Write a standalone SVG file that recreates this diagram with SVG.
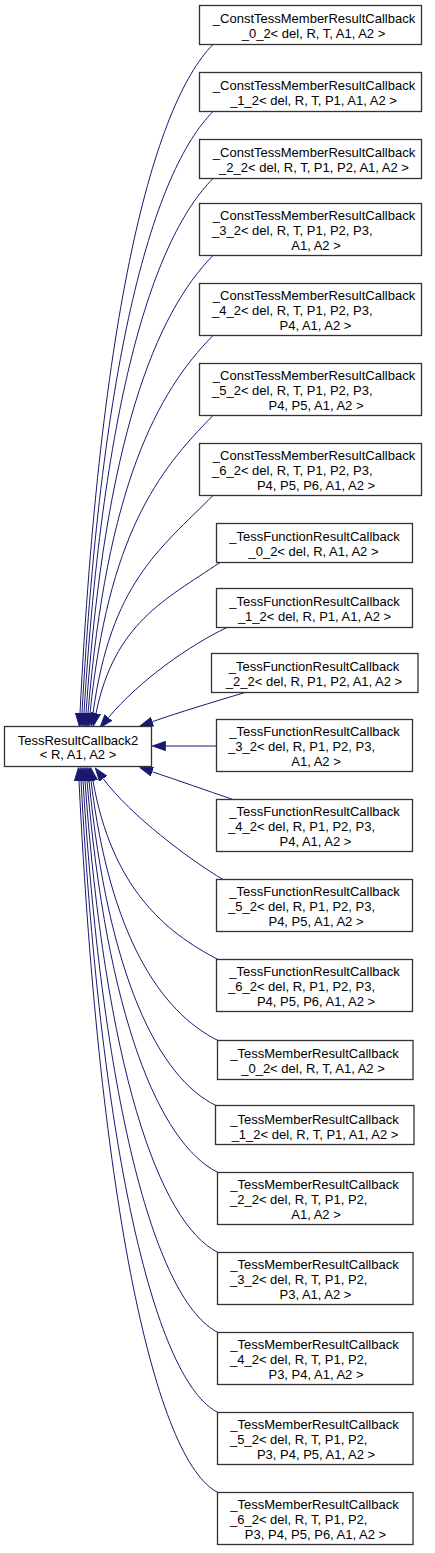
<svg xmlns="http://www.w3.org/2000/svg" width="435" height="1553" viewBox="0 0 435 1553">
<style>
.n rect{fill:#fff;stroke:#333;stroke-width:1.3}
.n text{font-family:"Liberation Sans",Arial,sans-serif;font-size:13px;fill:#000}
.m{text-anchor:middle}
.e path{fill:none;stroke:#191970;stroke-width:1}
</style>
<defs>
<marker id="arr" markerUnits="userSpaceOnUse" viewBox="0 0 14 10" refX="0" refY="5" markerWidth="14" markerHeight="10" orient="auto">
<path d="M0,0.33 L13.3,5 L0,9.67 z" fill="#191970" stroke="#191970" stroke-width="0.8"/>
</marker>
</defs>
<rect width="435" height="1553" fill="#fff"/>
<g class="e" id="connectors" marker-end="url(#arr)">
<path d="M213,44.5 C153.2,104.9 100,312.3 80,713.2" marker-end="url(#arr)"/>
<path d="M213,111.5 C154,171 101.7,352.5 82,713.2" marker-end="url(#arr)"/>
<path d="M213,178.5 C155,237 103.4,392.7 84,713.2" marker-end="url(#arr)"/>
<path d="M213,255.5 C155.9,313.2 105,438.9 86,713.2" marker-end="url(#arr)"/>
<path d="M213,335.5 C156.8,392.3 106.8,486.9 88,713.2" marker-end="url(#arr)"/>
<path d="M213,415.5 C157.7,471.4 108.5,534.9 90,713.2" marker-end="url(#arr)"/>
<path d="M213,495.5 C159,550 111,582.9 93,713.2" marker-end="url(#arr)"/>
<path d="M220,562.5 C164.2,600.2 114.6,623.2 96,713.2" marker-end="url(#arr)"/>
<path d="M227,627.5 C190,645 140,680 108.4,717.6" marker-end="url(#arr)"/>
<path d="M245,692.5 C210,703 180,712 152.4,721.7" marker-end="url(#arr)"/>
<path d="M216,746 L165.5,746" marker-end="url(#arr)"/>
<path d="M233,799.5 C205,790 180,781 152.4,771.8" marker-end="url(#arr)"/>
<path d="M223,879.5 C190,860 130,815 103.2,778.7" marker-end="url(#arr)"/>
<path d="M218,959.5 C165,932 111.75,887.7 93,780.8" marker-end="url(#arr)"/>
<path d="M218,1040.5 C160.85,1012.1 110.05,936.3 91,780.8" marker-end="url(#arr)"/>
<path d="M216,1105.5 C158.85,1078.1 108.05,975.9 89,780.8" marker-end="url(#arr)"/>
<path d="M218,1172.5 C159,1143.2 106.65,1015.5 87,780.8" marker-end="url(#arr)"/>
<path d="M218,1252.5 C158.15,1222.7 104.95,1063.5 85,780.8" marker-end="url(#arr)"/>
<path d="M218,1332.5 C157.25,1302.3 103.25,1111.5 83,780.8" marker-end="url(#arr)"/>
<path d="M218,1412.5 C156.35,1381.9 101.6,1159.5 81,780.8" marker-end="url(#arr)"/>
<path d="M218,1492.5 C155.5,1461.4 99.9,1207.5 79,780.8" marker-end="url(#arr)"/>
</g>
<g class="n" id="TessResultCallback2">
<rect x="4.5" y="726.5" width="147" height="40"/>
<text class="m" x="78" y="744.5">TessResultCallback2</text>
<text class="m" x="78" y="759">&lt; R, A1, A2 &gt;</text>
</g>
<g class="n" id="ConstTessMemberResultCallback_0_2">
<rect x="199.5" y="5.5" width="222" height="39"/>
<text class="m" x="314" y="23">_ConstTessMemberResultCallback</text>
<text class="m" x="313.5" y="38">_0_2&lt; del, R, T, A1, A2 &gt;</text>
</g>
<g class="n" id="ConstTessMemberResultCallback_1_2">
<rect x="199.5" y="72.5" width="222" height="39"/>
<text class="m" x="314" y="90">_ConstTessMemberResultCallback</text>
<text class="m" x="313.5" y="105">_1_2&lt; del, R, T, P1, A1, A2 &gt;</text>
</g>
<g class="n" id="ConstTessMemberResultCallback_2_2">
<rect x="199.5" y="139.5" width="222" height="39"/>
<text class="m" x="314" y="157">_ConstTessMemberResultCallback</text>
<text class="m" x="314" y="172">_2_2&lt; del, R, T, P1, P2, A1, A2 &gt;</text>
</g>
<g class="n" id="ConstTessMemberResultCallback_3_2">
<rect x="199.5" y="203.5" width="222" height="52"/>
<text class="m" x="314" y="220">_ConstTessMemberResultCallback</text>
<text x="212" y="235">_3_2&lt; del, R, T, P1, P2, P3,</text>
<text class="m" x="316" y="250">A1, A2 &gt;</text>
</g>
<g class="n" id="ConstTessMemberResultCallback_4_2">
<rect x="199.5" y="283.5" width="222" height="52"/>
<text class="m" x="314" y="300">_ConstTessMemberResultCallback</text>
<text x="212" y="315">_4_2&lt; del, R, T, P1, P2, P3,</text>
<text class="m" x="315.5" y="330">P4, A1, A2 &gt;</text>
</g>
<g class="n" id="ConstTessMemberResultCallback_5_2">
<rect x="199.5" y="363.5" width="222" height="52"/>
<text class="m" x="314" y="380">_ConstTessMemberResultCallback</text>
<text x="212" y="395">_5_2&lt; del, R, T, P1, P2, P3,</text>
<text class="m" x="316" y="410">P4, P5, A1, A2 &gt;</text>
</g>
<g class="n" id="ConstTessMemberResultCallback_6_2">
<rect x="199.5" y="443.5" width="222" height="52"/>
<text class="m" x="314" y="460">_ConstTessMemberResultCallback</text>
<text x="212" y="475">_6_2&lt; del, R, T, P1, P2, P3,</text>
<text class="m" x="316" y="490">P4, P5, P6, A1, A2 &gt;</text>
</g>
<g class="n" id="TessFunctionResultCallback_0_2">
<rect x="216.5" y="523.5" width="196" height="39"/>
<text class="m" x="314.5" y="541">_TessFunctionResultCallback</text>
<text class="m" x="313.5" y="556">_0_2&lt; del, R, A1, A2 &gt;</text>
</g>
<g class="n" id="TessFunctionResultCallback_1_2">
<rect x="216.5" y="588.5" width="196" height="39"/>
<text class="m" x="314.5" y="606">_TessFunctionResultCallback</text>
<text class="m" x="314.5" y="621">_1_2&lt; del, R, P1, A1, A2 &gt;</text>
</g>
<g class="n" id="TessFunctionResultCallback_2_2">
<rect x="211.5" y="653.5" width="206.5" height="39"/>
<text class="m" x="314" y="671">_TessFunctionResultCallback</text>
<text class="m" x="314" y="686">_2_2&lt; del, R, P1, P2, A1, A2 &gt;</text>
</g>
<g class="n" id="TessFunctionResultCallback_3_2">
<rect x="216.5" y="719.5" width="196" height="52"/>
<text class="m" x="314.5" y="736">_TessFunctionResultCallback</text>
<text x="228" y="751">_3_2&lt; del, R, P1, P2, P3,</text>
<text class="m" x="316" y="766">A1, A2 &gt;</text>
</g>
<g class="n" id="TessFunctionResultCallback_4_2">
<rect x="216.5" y="799.5" width="196" height="52"/>
<text class="m" x="314.5" y="816">_TessFunctionResultCallback</text>
<text x="228" y="831">_4_2&lt; del, R, P1, P2, P3,</text>
<text class="m" x="315.5" y="846">P4, A1, A2 &gt;</text>
</g>
<g class="n" id="TessFunctionResultCallback_5_2">
<rect x="216.5" y="879.5" width="196" height="52"/>
<text class="m" x="314.5" y="896">_TessFunctionResultCallback</text>
<text x="228" y="911">_5_2&lt; del, R, P1, P2, P3,</text>
<text class="m" x="316" y="926">P4, P5, A1, A2 &gt;</text>
</g>
<g class="n" id="TessFunctionResultCallback_6_2">
<rect x="216.5" y="959.5" width="196" height="52"/>
<text class="m" x="314.5" y="976">_TessFunctionResultCallback</text>
<text x="228" y="991">_6_2&lt; del, R, P1, P2, P3,</text>
<text class="m" x="316" y="1006">P4, P5, P6, A1, A2 &gt;</text>
</g>
<g class="n" id="TessMemberResultCallback_0_2">
<rect x="217.5" y="1040.5" width="195.5" height="39"/>
<text class="m" x="314.5" y="1058">_TessMemberResultCallback</text>
<text class="m" x="313" y="1073">_0_2&lt; del, R, T, A1, A2 &gt;</text>
</g>
<g class="n" id="TessMemberResultCallback_1_2">
<rect x="215.5" y="1105.5" width="198.5" height="39"/>
<text class="m" x="314.5" y="1123.5">_TessMemberResultCallback</text>
<text class="m" x="315" y="1138.5">_1_2&lt; del, R, T, P1, A1, A2 &gt;</text>
</g>
<g class="n" id="TessMemberResultCallback_2_2">
<rect x="217.5" y="1172.5" width="195.5" height="52"/>
<text class="m" x="314.5" y="1189">_TessMemberResultCallback</text>
<text x="230" y="1204">_2_2&lt; del, R, T, P1, P2,</text>
<text class="m" x="316" y="1219">A1, A2 &gt;</text>
</g>
<g class="n" id="TessMemberResultCallback_3_2">
<rect x="217.5" y="1252.5" width="195.5" height="52"/>
<text class="m" x="314.5" y="1269">_TessMemberResultCallback</text>
<text x="230" y="1284">_3_2&lt; del, R, T, P1, P2,</text>
<text class="m" x="315.5" y="1299">P3, A1, A2 &gt;</text>
</g>
<g class="n" id="TessMemberResultCallback_4_2">
<rect x="217.5" y="1332.5" width="195.5" height="52"/>
<text class="m" x="314.5" y="1349">_TessMemberResultCallback</text>
<text x="230" y="1364">_4_2&lt; del, R, T, P1, P2,</text>
<text class="m" x="316" y="1379">P3, P4, A1, A2 &gt;</text>
</g>
<g class="n" id="TessMemberResultCallback_5_2">
<rect x="217.5" y="1412.5" width="195.5" height="52"/>
<text class="m" x="314.5" y="1429">_TessMemberResultCallback</text>
<text x="230" y="1444">_5_2&lt; del, R, T, P1, P2,</text>
<text class="m" x="316" y="1459">P3, P4, P5, A1, A2 &gt;</text>
</g>
<g class="n" id="TessMemberResultCallback_6_2">
<rect x="217.5" y="1492.5" width="195.5" height="52"/>
<text class="m" x="314.5" y="1509">_TessMemberResultCallback</text>
<text x="230" y="1524">_6_2&lt; del, R, T, P1, P2,</text>
<text class="m" x="315.5" y="1539">P3, P4, P5, P6, A1, A2 &gt;</text>
</g>
</svg>
